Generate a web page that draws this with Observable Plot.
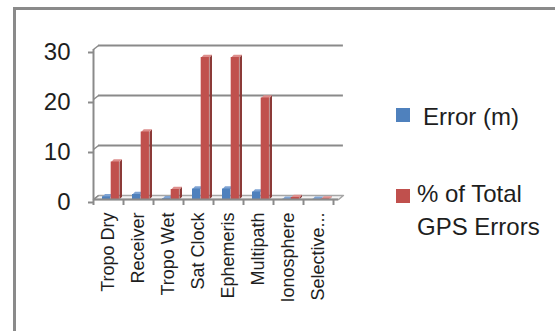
<!DOCTYPE html>
<html><head><meta charset="utf-8">
<script src="https://cdn.jsdelivr.net/npm/d3@7"></script>
<script src="https://cdn.jsdelivr.net/npm/@observablehq/plot@0.6"></script>
<style>
html,body{margin:0;padding:0;background:#fff;overflow:hidden;width:555px;height:331px}
#wrap{position:relative;width:555px;height:331px;font-family:"Liberation Sans",Arial,sans-serif;color:#1e1e1e}
#frame{position:absolute;left:13px;top:7px;width:700px;height:500px;border-left:3px solid #8a8a8a;border-top:3px solid #8a8a8a;box-sizing:border-box}
#chart{position:absolute;left:0;top:0}
.lg{position:absolute;font-size:24px;white-space:nowrap}
.sw{position:absolute;width:14px;height:14px}
</style></head>
<body>
<div id="wrap">
  <div id="frame"></div>
  <div id="chart"></div>
  <div id="legend"></div>
</div>
<script>
const categories = ["Tropo Dry","Receiver","Tropo Wet","Sat Clock","Ephemeris","Multipath","Ionosphere","Selective..."];
const errorM   = [0.55, 1.0, 0.15, 2.1, 2.1, 1.5, 0.05, 0.03];
const pctTotal = [7.5, 13.5, 2.0, 28.4, 28.4, 20.3, 0.4, 0.1];
const seriesNames = ["Error (m)", "% of Total GPS Errors"];
const yTicks = [0, 10, 20, 30];

const colors = [
  {front:"#4f81bd", side:"#385d8a", top:"#7ea3d3"},
  {front:"#c0504d", side:"#8c3a38", top:"#dd8e8c"}
];
const depthX = 0.167, depthY = 0.8;   // back-plane offset (data units)
const bx = 0.085, by = 0.55;          // bar depth (data units)
const slots = [[0.30, 0.575], [0.59, 0.865]];

const bars = [];
categories.forEach((c, i) => {
  [errorM[i], pctTotal[i]].forEach((v, s) => {
    bars.push({cat: c, s, x1: i + slots[s][0], x2: i + slots[s][1], v, id: c + s});
  });
});
const sides = [], tops = [];
bars.forEach(b => {
  const c = colors[b.s];
  [[b.x2,0],[b.x2+bx,by],[b.x2+bx,b.v+by],[b.x2,b.v],[b.x2,0]].forEach(([x,y]) => sides.push({id:b.id, x, y, fill:c.side}));
  [[b.x1,b.v],[b.x1+bx,b.v+by],[b.x2+bx,b.v+by],[b.x2,b.v],[b.x1,b.v]].forEach(([x,y]) => tops.push({id:b.id, x, y, fill:c.top}));
});
const n = categories.length;
const floor = [[0,0],[n+0.17,0],[n+0.33,depthY],[depthX,depthY],[0,0]].map(([x,y]) => ({x,y}));

const grid = "#8a8a8a";
const chart = Plot.plot({
  width: 555, height: 331,
  marginLeft: 93, marginRight: 222, marginTop: 49, marginBottom: 132,
  style: {fontFamily: '"Liberation Sans", Arial, sans-serif', color: "#1e1e1e", background: "transparent", overflow: "visible"},
  x: {domain: [0, n], axis: null},
  y: {domain: [0, 30], axis: null},
  marks: [
    Plot.line(floor, {x: "x", y: "y", fill: "#f4f4f4", stroke: "#a6a6a6", strokeWidth: 1.5}),
    Plot.ruleY(yTicks.filter(d => d > 0), {y: d => d + depthY, x1: depthX, x2: n + 0.33, stroke: grid, strokeWidth: 2}),
    Plot.link(yTicks, {x1: 0, y1: d => d, x2: depthX, y2: d => d + depthY, stroke: grid, strokeWidth: 1.5}),
    Plot.ruleX([0], {y1: 0, y2: 30, stroke: grid, strokeWidth: 2}),
    Plot.line(sides, {x: "x", y: "y", z: "id", fill: "fill", stroke: "none"}),
    Plot.line(tops, {x: "x", y: "y", z: "id", fill: "fill", stroke: "none"}),
    Plot.rect(bars, {x1: "x1", x2: "x2", y1: 0, y2: "v", fill: d => colors[d.s].front}),
    Plot.ruleY([0], {x1: 0, x2: n + 0.17, stroke: grid, strokeWidth: 2}),
    Plot.axisY({ticks: yTicks, tickSize: 5, tickPadding: 18, fontSize: 24, stroke: grid, strokeWidth: 2, fill: "#1e1e1e", dy: 3}),
    Plot.axisX({ticks: d3.range(n + 1), tickFormat: () => "", tickSize: 6, stroke: grid, strokeWidth: 2}),
    Plot.text(categories, {x: (d, i) => i + 0.5, y: 0, dy: 13, rotate: -90, textAnchor: "end", lineAnchor: "middle", fontSize: 18, fill: "#1e1e1e"})
  ]
});
document.getElementById("chart").appendChild(chart);

const legend = document.getElementById("legend");
legend.innerHTML = `
  <div class="sw" style="left:396px;top:108px;background:${colors[0].front}"></div>
  <div class="lg" style="left:423px;top:105px;line-height:24px">${seriesNames[0]}</div>
  <div class="sw" style="left:396px;top:189px;background:${colors[1].front}"></div>
  <div class="lg" style="left:417px;top:177px;line-height:33px">${seriesNames[1].replace(" GPS", "<br>GPS")}</div>
`;
</script>
</body></html>
